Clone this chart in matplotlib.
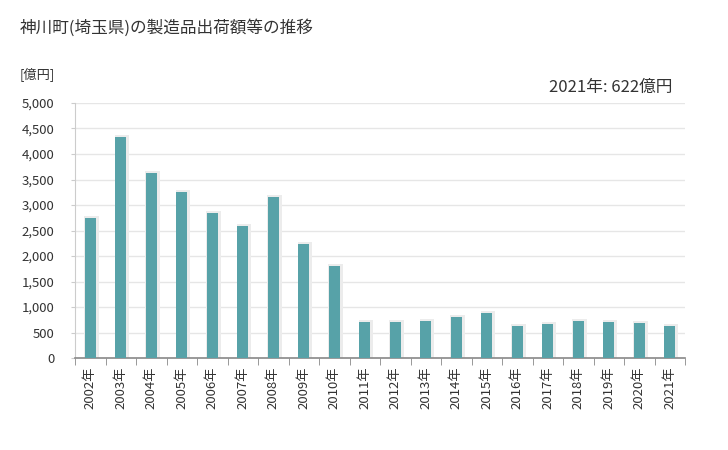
import numpy as np
import matplotlib.pyplot as plt

plt.rcParams['font.family'] = ['Noto Sans CJK JP', 'DejaVu Sans']

years = [f'{y}年' for y in range(2002, 2022)]
values = [2745, 4333, 3627, 3255, 2843, 2588, 3157, 2235, 1804, 706,
          706, 725, 804, 882, 627, 667, 725, 706, 686, 622]

fig = plt.figure(figsize=(7.28, 4.5), dpi=100)
ax = fig.add_axes([75/728, 92/450, 610/728, 255/450])

x = np.arange(len(values))
# soft shadow around bars
ax.bar(x + 0.04, np.array(values) + 40, width=0.48, color='#ececec', zorder=2)
ax.bar(x, values, width=0.36, color='#57a2a8', zorder=3)

ax.set_xlim(-0.5, len(values) - 0.5)
ax.set_ylim(0, 5000)
ax.set_yticks(np.arange(0, 5001, 500))
ax.set_yticklabels([f'{v:,}' for v in range(0, 5001, 500)], fontsize=9.5, color='#333333')
ax.yaxis.grid(True, color='#e6e6e6', linewidth=1, zorder=0)

ax.set_xticks(x)
ax.set_xticklabels(years, rotation=90, fontsize=9.5, color='#333333')
ax.set_xticks(np.arange(-0.5, len(values)), minor=True)
ax.tick_params(axis='x', which='major', length=0, pad=6)
ax.tick_params(axis='x', which='minor', length=5, color='#888888')
ax.tick_params(axis='y', length=3, color='#cccccc', pad=12)

for s in ['top', 'right']:
    ax.spines[s].set_visible(False)
ax.spines['left'].set_color('#cccccc')
ax.spines['bottom'].set_color('#888888')
ax.spines['bottom'].set_linewidth(1.2)

fig.text(20/728, 1 - 28/450, '神川町(埼玉県)の製造品出荷額等の推移', fontsize=12,
         va='center', ha='left', color='#333333')
fig.text(20/728, 1 - 75/450, '[億円]', fontsize=9.5, va='center', ha='left', color='#333333')
fig.text(672/728, 1 - 87/450, '2021年: 622億円', fontsize=12, va='center', ha='right',
         color='#333333')

plt.savefig('out.png', dpi=100)
